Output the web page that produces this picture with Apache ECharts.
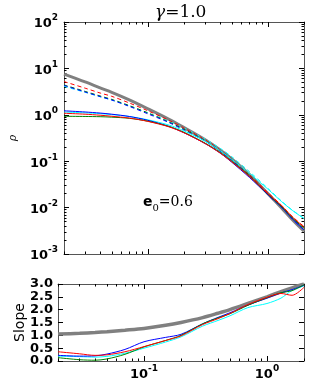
<!DOCTYPE html>
<html><head><meta charset="utf-8">
<script src="https://cdn.jsdelivr.net/npm/echarts@6/dist/echarts.min.js"></script>
<style>html,body{margin:0;padding:0;background:#fff}#c{width:310px;height:385px}</style>
</head><body><div id="c"></div>
<script>
// radius samples (shared x values)
const radius = [0.02,0.03,0.04,0.05,0.07,0.1,0.15,0.2,0.3,0.4,0.5,0.7,1.0,1.3,1.6,2.0];

// density, top panel
const rhoGray   = [7.5,5.1,3.8,3.05,2.1,1.35,0.8,0.53,0.29,0.175,0.112,0.052,0.02,0.0098,0.0055,0.0031];
const rhoRed    = [1.08,1.03,0.98,0.93,0.85,0.72,0.55,0.41,0.24,0.15,0.097,0.047,0.02,0.011,0.0063,0.0038];
const rhoBlue   = [1.22,1.15,1.09,1.03,0.92,0.76,0.56,0.41,0.24,0.15,0.095,0.045,0.019,0.0102,0.0057,0.0033];
const rhoCyan   = [1.15,1.1,1.06,1.01,0.92,0.78,0.6,0.45,0.27,0.17,0.11,0.055,0.025,0.0135,0.0087,0.0058];
const rhoGreen  = [0.93,0.92,0.91,0.89,0.84,0.73,0.56,0.42,0.245,0.155,0.1,0.048,0.0195,0.0105,0.006,0.0036];
const rhoRedD   = [5.2,3.75,2.95,2.5,1.8,1.22,0.76,0.52,0.29,0.175,0.112,0.052,0.021,0.0112,0.0064,0.0039];
const rhoGreenD = [4.4,3.2,2.55,2.15,1.58,1.1,0.7,0.49,0.28,0.17,0.11,0.05,0.02,0.0106,0.0061,0.0036];
const rhoBlueD  = [4.3,3.1,2.47,2.08,1.52,1.05,0.68,0.47,0.27,0.165,0.105,0.048,0.019,0.0101,0.0057,0.0033];
const rhoCyanD  = [4.1,3.05,2.45,2.08,1.55,1.1,0.73,0.52,0.3,0.19,0.125,0.06,0.026,0.0138,0.0088,0.0059];

// logarithmic slope, bottom panel
const slopeGray  = [1.05,1.08,1.11,1.14,1.2,1.27,1.39,1.5,1.69,1.86,2.0,2.24,2.5,2.7,2.85,3.0];
const slopeRed   = [0.36,0.28,0.22,0.24,0.36,0.56,0.8,0.98,1.42,1.65,1.85,2.2,2.48,2.63,2.56,2.87];
const slopeBlue  = [0.22,0.19,0.2,0.27,0.45,0.75,0.92,1.04,1.45,1.7,1.88,2.18,2.45,2.65,2.78,2.95];
const slopeGreen = [0.13,0.05,0.03,0.08,0.26,0.55,0.8,1.0,1.45,1.68,1.84,2.17,2.47,2.66,2.74,2.97];
const slopeCyan  = [0.19,0.17,0.15,0.18,0.3,0.5,0.74,0.94,1.36,1.58,1.76,2.08,2.24,2.45,2.75,2.93];

// ticks
const xMajor = [0.1, 1];
const xMinor = [0.02,0.03,0.04,0.05,0.06,0.07,0.08,0.09,0.2,0.3,0.4,0.5,0.6,0.7,0.8,0.9,2];
const yMajor = [0.001,0.01,0.1,1,10,100];
const yMinor = [];
[0.001,0.01,0.1,1,10].forEach(d => { for (let k = 2; k <= 9; k++) yMinor.push(+(d*k).toPrecision(3)); });

const pair = a => radius.map((r,i) => [r, a[i]]);
const F = 'DejaVu Sans';
const rich = {
  b: {fontFamily: F, fontWeight: 'bold', fontSize: 13, color: '#000', verticalAlign: 'bottom', lineHeight: 17},
  s: {fontFamily: F, fontWeight: 'bold', fontSize: 9, color: '#000', verticalAlign: 'top', lineHeight: 17}
};
const pow10 = v => { const e = Math.round(Math.log10(v)); return '{b|10}{s|' + (e < 0 ? '-' + (-e) : e) + '}'; };
const frame = '#555';

function xAx(grid, pos, ticks, len, line, labels) {
  return {
    type: 'log', gridIndex: grid, position: pos, min: 0.02, max: 2, logBase: 10,
    axisLine: {show: line, lineStyle: {color: frame, width: 1}},
    axisTick: {show: true, inside: true, length: len, customValues: ticks, lineStyle: {color: '#000', width: 1}},
    axisLabel: labels ? {show: true, customValues: xMajor, formatter: pow10, rich: rich, margin: 3} : {show: false},
    splitLine: {show: false}, minorTick: {show: false}
  };
}
function yAxLog(pos, ticks, len, line, labels) {
  const o = {
    type: 'log', gridIndex: 0, position: pos, min: 0.001, max: 100, logBase: 10,
    axisLine: {show: line, lineStyle: {color: frame, width: 1}},
    axisTick: {show: true, inside: true, length: len, customValues: ticks, lineStyle: {color: '#000', width: 1}},
    axisLabel: labels ? {show: true, customValues: yMajor, formatter: pow10, rich: rich, margin: 6} : {show: false},
    splitLine: {show: false}
  };
  if (labels) {
    o.name = 'ρ'; o.nameLocation = 'middle'; o.nameRotate = 90; o.nameGap = 45;
    o.nameTextStyle = {fontFamily: 'DejaVu Serif', fontStyle: 'italic', fontSize: 11, color: '#000'};
  }
  return o;
}
function ySlope(pos, labels) {
  const o = {
    type: 'value', gridIndex: 1, position: pos, min: 0, max: 3, interval: 0.5,
    axisLine: {show: true, lineStyle: {color: frame, width: 1}},
    axisTick: {show: true, inside: true, length: 5, lineStyle: {color: '#000', width: 1}},
    axisLabel: labels ? {show: true, formatter: v => v.toFixed(1), fontFamily: F, fontWeight: 'bold', fontSize: 13, color: '#000', margin: 5} : {show: false},
    splitLine: {show: false}
  };
  if (labels) {
    o.name = 'Slope'; o.nameLocation = 'middle'; o.nameGap = 31; o.nameMoveOverlap = false;
    o.nameTextStyle = {fontFamily: F, fontSize: 14, color: '#000'};
  }
  return o;
}

const xAxis = [
  xAx(0,'bottom',xMajor,5,true,false), xAx(0,'bottom',xMinor,2.5,false,false),
  xAx(0,'top',xMajor,5,true,false), xAx(0,'top',xMinor,2.5,false,false),
  xAx(1,'bottom',xMajor,5,true,true), xAx(1,'bottom',xMinor,2.5,false,false),
  xAx(1,'top',xMajor,5,true,false), xAx(1,'top',xMinor,2.5,false,false)
];
const yAxis = [
  yAxLog('left',yMajor,5,true,true), yAxLog('left',yMinor,2.5,false,false),
  yAxLog('right',yMajor,5,true,false), yAxLog('right',yMinor,2.5,false,false),
  ySlope('left',true), ySlope('right',false)
];

function line(data, color, width, dashed, xi, yi, z) {
  return {type: 'line', data: pair(data), xAxisIndex: xi, yAxisIndex: yi, showSymbol: false, symbol: 'none',
    smooth: 0.3, z: z || 2, silent: true, animation: false,
    lineStyle: {color: color, width: width, type: dashed ? [4,3] : 'solid'}};
}
const GRAY = '#808080', RED = '#ff0000', GREEN = '#008000', BLUE = '#0000ff', CYAN = '#00ffff';
const series = [
  line(rhoGray, GRAY, 3, false, 0, 0, 1),
  line(rhoCyanD, CYAN, 1, true, 0, 0), line(rhoGreenD, GREEN, 1, true, 0, 0),
  line(rhoBlueD, BLUE, 1, true, 0, 0), line(rhoRedD, RED, 1, true, 0, 0),
  line(rhoCyan, CYAN, 1, false, 0, 0), line(rhoBlue, BLUE, 1, false, 0, 0),
  line(rhoGreen, GREEN, 1, false, 0, 0), line(rhoRed, RED, 1, false, 0, 0),
  line(slopeGray, GRAY, 3.5, false, 4, 4, 1),
  line(slopeCyan, CYAN, 1, false, 4, 4), line(slopeBlue, BLUE, 1, false, 4, 4),
  line(slopeGreen, GREEN, 1, false, 4, 4), line(slopeRed, RED, 1, false, 4, 4)
];

const chart = echarts.init(document.getElementById('c'), null, {renderer: 'canvas'});
chart.setOption({
  animation: false,
  backgroundColor: '#fff',
  grid: [
    {left: 58, right: 6, top: 22, height: 232},
    {left: 58, right: 6, top: 284, height: 77}
  ],
  xAxis: xAxis, yAxis: yAxis, series: series,
  graphic: [
    {type: 'text', left: 155, top: 4, silent: true,
      style: {text: '{g|γ}{n|=1.0}', rich: {
        g: {fontFamily: 'DejaVu Serif', fontStyle: 'italic', fontSize: 17, fill: '#000'},
        n: {fontFamily: 'DejaVu Serif', fontSize: 17, fill: '#000'}}}},
    {type: 'text', left: 143, top: 195, silent: true,
      style: {text: '{e|e}{s|0}{n|=0.6}', rich: {
        e: {fontFamily: 'DejaVu Sans', fontWeight: 'bold', fontSize: 14, fill: '#000', verticalAlign: 'top', lineHeight: 18},
        s: {fontFamily: 'DejaVu Serif', fontSize: 10, fill: '#000', verticalAlign: 'bottom', lineHeight: 18},
        n: {fontFamily: 'DejaVu Serif', fontSize: 14, fill: '#000', verticalAlign: 'top', lineHeight: 18}}}}
  ]
});
</script></body></html>
